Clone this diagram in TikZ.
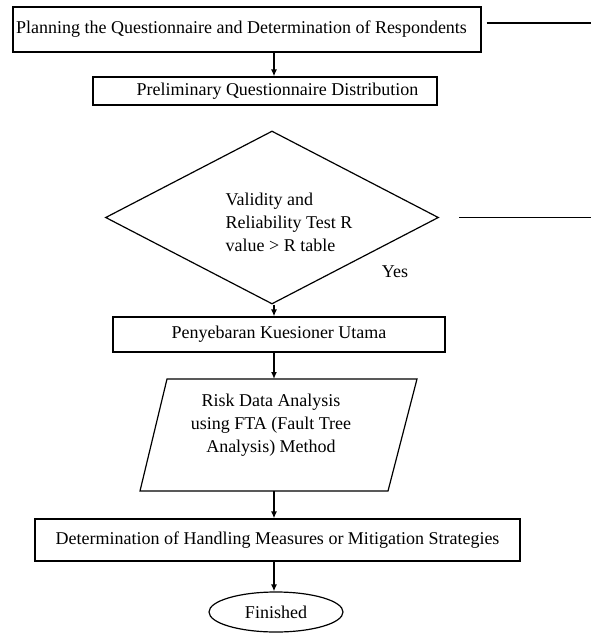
\documentclass[tikz,border=0pt]{standalone}
\usepackage{fontspec}
\setmainfont{Liberation Serif}
\usetikzlibrary{arrows.meta,shapes.geometric}
\begin{document}
\begin{tikzpicture}[x=1pt,y=-1pt,
		proc/.style={draw,line width=1.2pt,inner sep=0pt},
		lbl/.style={font=\fontsize{18}{23}\selectfont},
		flow/.style={line width=1.5pt,-{Latex[length=7pt,width=6pt]}}]
			\useasboundingbox (0,0) rectangle (591,633);
			\coordinate (axis) at (274,0);
			\coordinate (out1) at (591,23);
			\coordinate (out2) at (591,0);
			\node[proc,lbl,minimum width=468pt,minimum height=45pt] (plan) at (247,29.5) {Planning the Questionnaire and Determination of Respondents\hspace*{11pt}};
			\node[proc,lbl,minimum width=344pt,minimum height=28pt] (prelim) at (265,91) {\hspace*{25pt}Preliminary Questionnaire Distribution};
			\node[proc,diamond,minimum width=333pt,minimum height=173pt] (test) at (272,217.5) {};
			\node[lbl,align=left,inner sep=0pt] (testtext) at (289,222) {Validity and\\Reliability Test R\\value > R table};
			\node[lbl,inner sep=0pt] (yes) at (395,272) {Yes};
			\node[proc,lbl,minimum width=332pt,minimum height=35pt] (spread) at (279,334.5) {Penyebaran Kuesioner Utama};
			\coordinate (risktop) at (277,379);
			\coordinate (riskbot) at (277,491);
			\draw[line width=1.2pt] (167,379) -- (417,379) -- (388,491) -- (140,491) -- cycle;
			\node[lbl,align=center,inner sep=0pt] (risk) at (271,425) {Risk Data Analysis\\using FTA (Fault Tree\\Analysis) Method};
			\node[proc,lbl,minimum width=485pt,minimum height=42pt] (mitig) at (277.5,540) {Determination of Handling Measures or Mitigation Strategies};
			\node[proc,lbl,ellipse,minimum width=134pt,minimum height=40pt] (done) at (276,612) {Finished};
			\draw[flow] (plan.south -| axis) -- (prelim.north -| axis);
			\draw[flow] (test.south -| axis) -- (spread.north -| axis);
			\draw[flow] (spread.south -| axis) -- (risktop -| axis);
			\draw[flow] (riskbot -| axis) -- (mitig.north -| axis);
			\draw[flow] (mitig.south -| axis) -- (done.north -| axis);
			\draw[line width=1.2pt] ([xshift=5pt]plan.east |- out1) -- (out1);
			\draw[line width=1.2pt] ([xshift=20pt]test.east) -- (test.east -| out2);
		\end{tikzpicture}
\end{document}
